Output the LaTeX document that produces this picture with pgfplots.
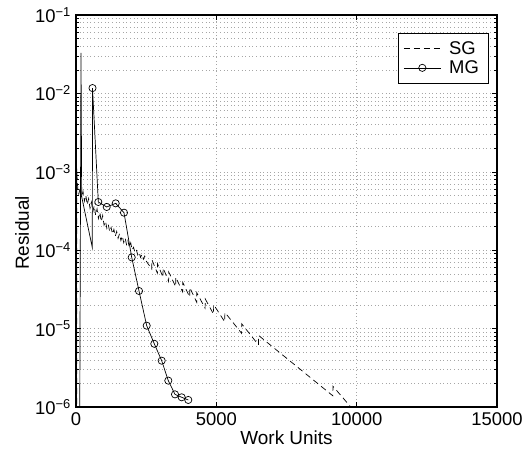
\documentclass[border=0pt]{standalone}
\usepackage{fontspec}
\setmainfont{Liberation Sans}
\usepackage{pgfplots}
\pgfplotsset{compat=1.18}
\begin{document}
\begin{tikzpicture}
\begin{axis}[
  scale only axis, width=421bp, height=392bp,
  ymode=log, xmin=0, xmax=15000, ymin=1e-6, ymax=1e-1,
  scaled x ticks=false,
  xtick={0,5000,10000,15000}, xticklabels={0,5000,10000,15000},
  ytick={1e-6,1e-5,1e-4,1e-3,1e-2,1e-1},
  yticklabels={10\textsuperscript{−6},10\textsuperscript{−5},10\textsuperscript{−4},10\textsuperscript{−3},10\textsuperscript{−2},10\textsuperscript{−1}},
  minor ytick={2e-6,3e-6,4e-6,5e-6,6e-6,7e-6,8e-6,9e-6,2e-5,3e-5,4e-5,5e-5,6e-5,7e-5,8e-5,9e-5,2e-4,3e-4,4e-4,5e-4,6e-4,7e-4,8e-4,9e-4,2e-3,3e-3,4e-3,5e-3,6e-3,7e-3,8e-3,9e-3,2e-2,3e-2,4e-2,5e-2,6e-2,7e-2,8e-2,9e-2},
  minor x tick num=0,
  grid=both,
  major grid style={gray!70, dash pattern=on 0.8bp off 2.8bp, line width=0.6bp},
  minor grid style={gray!70, dash pattern=on 0.8bp off 2.8bp, line width=0.6bp},
  tick align=inside,
  major tick length=5bp, minor tick length=3bp,
  axis line style={line width=1.2bp},
  every tick/.style={black, line width=0.6bp},
  tick label style={font=\fontsize{18.5}{21}\selectfont, inner sep=1.5bp},
  yticklabel style={xshift=-3.5bp},
  xticklabel style={yshift=-4bp},
  label style={font=\fontsize{19}{22}\selectfont},
  xlabel={Work Units}, ylabel={Residual},
  xlabel style={at={(axis description cs:0.5,-0.079)}, anchor=center},
  ylabel style={at={(axis description cs:-0.128,0.444)}, anchor=center},
  legend image code/.code={\draw[mark repeat=2,mark phase=2,#1] plot coordinates {(0bp,0bp) (18.5bp,0bp) (37bp,0bp)};},
  legend style={at={(0.979,0.954)}, anchor=north east, draw=black, line width=0.6bp, font=\fontsize{18.5}{21}\selectfont, fill=white, inner xsep=5bp, inner ysep=6bp, row sep=1bp, nodes={inner xsep=4bp}, /tikz/every odd column/.append style={column sep=4bp}},
  legend cell align=left,
]
\coordinate (sw) at (rel axis cs:0,0);
\coordinate (ne) at (rel axis cs:1,1);
\addlegendimage{black, line width=0.7bp, dash pattern=on 6bp off 4bp}
\addlegendentry{SG}
\addlegendimage{black, line width=0.7bp, solid, mark=o, mark size=3.6bp, mark options={solid}}
\addlegendentry{MG}
\addplot[forget plot, black, line width=0.7bp, dash pattern=on 6bp off 4bp] coordinates {
(25,1e-8)(30,1.1e-3)(40,8.5e-4)(55,6.8e-4)(71,5.9e-4)(100,5.21e-4)(150,6.22e-4)(200,4.69e-4)(250,5.61e-4)(300,4.23e-4)(350,5.05e-4)(400,3.81e-4)(450,4.55e-4)(500,3.43e-4)(550,4.10e-4)(600,3.09e-4)(650,3.70e-4)(700,2.80e-4)(750,3.36e-4)(800,2.54e-4)(850,3.05e-4)(900,2.31e-4)(950,2.77e-4)(1000,2.09e-4)(1050,2.34e-4)(1100,1.90e-4)(1150,2.13e-4)(1200,1.73e-4)(1250,1.95e-4)(1300,1.61e-4)(1350,1.84e-4)(1400,1.51e-4)(1450,1.73e-4)(1500,1.42e-4)(1550,1.62e-4)(1600,1.33e-4)(1650,1.52e-4)(1700,1.25e-4)(1750,1.43e-4)(1800,1.18e-4)(1850,1.33e-4)(1900,1.09e-4)(1950,1.24e-4)(2000,1.01e-4)(2050,1.09e-4)(2100,9.40e-5)(2150,1.01e-4)(2200,8.71e-5)(2250,9.40e-5)(2300,8.09e-5)(2350,8.85e-5)(2400,7.67e-5)(2450,8.38e-5)(2500,7.28e-5)
(2700,5.74e-5)(2705,7.57e-5)(2900,5.08e-5)(2905,6.70e-5)(3100,4.51e-5)(3105,5.94e-5)(3300,3.99e-5)(3305,5.26e-5)(3550,3.43e-5)(3555,4.52e-5)(3800,2.94e-5)(3805,3.88e-5)(4050,2.53e-5)(4055,3.33e-5)(4300,2.17e-5)(4305,2.86e-5)(4600,1.82e-5)(4605,2.39e-5)(4900,1.53e-5)(4905,2.02e-5)(5300,1.22e-5)(5305,1.61e-5)(5900,8.71e-6)(5905,1.15e-5)(6500,6.21e-6)(6505,8.18e-6)(9150,1.39e-6)(9155,1.84e-6)(9900,9.0e-7)
};
\addplot[forget plot, black, line width=0.7bp, solid, mark=o, mark size=3.6bp, mark options={solid}, mark indices={4,5,6,7,8,9,10,11,12,13,14,15,16,17}] coordinates {
(115,1e-8)(178,3.3e-2)(203,4.8e-4)(581,1.08e-4)(588,1.17e-2)(795,4.12e-4)(1094,3.56e-4)(1414,3.96e-4)(1710,3.01e-4)(1985,8.1e-5)(2245,3.02e-5)(2519,1.09e-5)(2790,6.4e-6)(3053,3.9e-6)(3289,2.17e-6)(3527,1.45e-6)(3766,1.33e-6)(4001,1.23e-6)
};
\end{axis}
\pgfresetboundingbox
\path[use as bounding box] ([shift={(-76bp,-42bp)}]sw) rectangle ([shift={(28bp,15bp)}]ne);
\end{tikzpicture}
\end{document}
